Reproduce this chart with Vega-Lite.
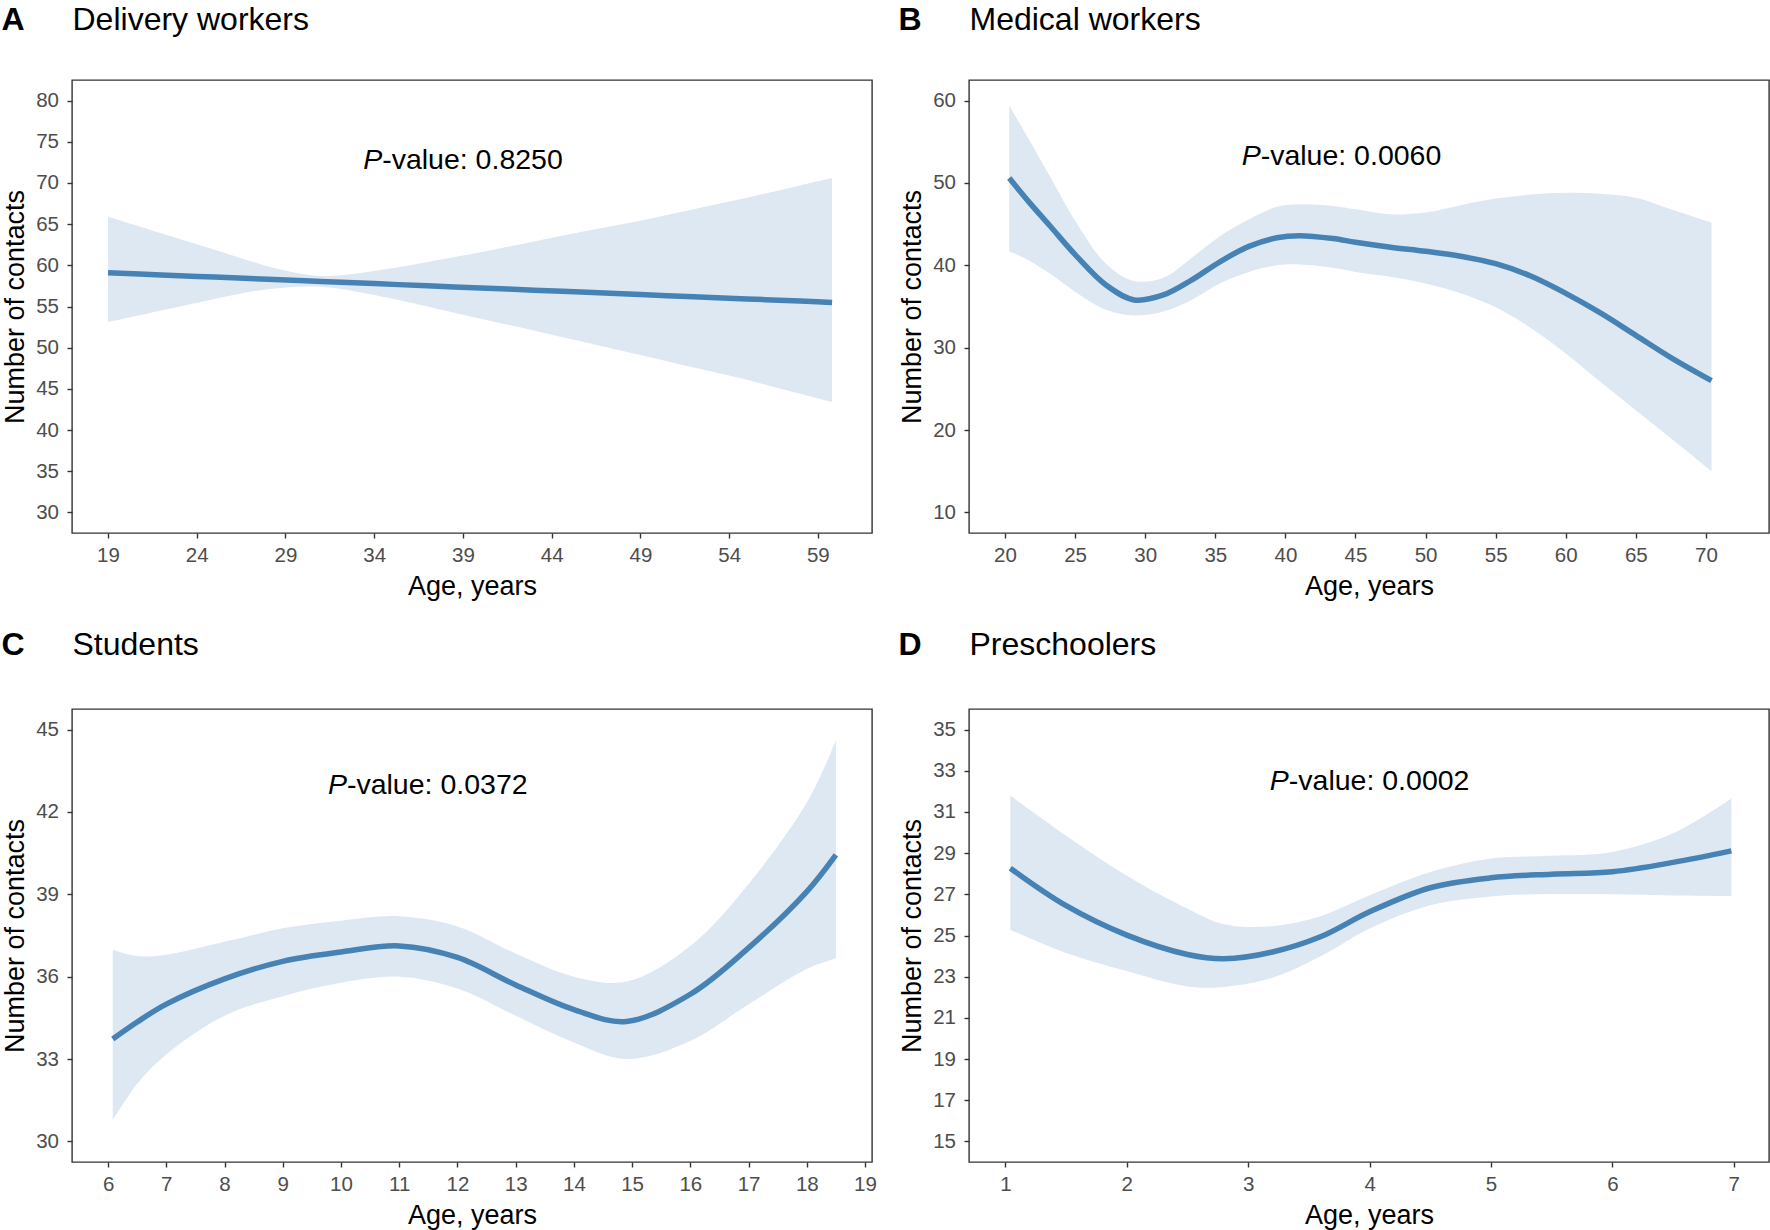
{
  "$schema": "https://vega.github.io/schema/vega-lite/v6.json",
  "autosize": "none",
  "padding": {"left": 72, "top": 80, "right": 1698, "bottom": 1150},
  "background": "white",
  "config": {
    "font": "Liberation Sans",
    "view": {"stroke": "#333333", "strokeWidth": 1.4},
    "axis": {"grid": false, "domain": false, "labelFont": "Liberation Sans", "titleFont": "Liberation Sans", "labelFontSize": 20.5, "labelColor": "#4D4D4D", "tickColor": "#333333", "tickWidth": 1.4, "tickSize": 5, "titleColor": "#000000", "titleFontWeight": "normal", "labelFlush": false, "labelOverlap": false}
  },
  "datasets": {
    "A": [
      {"x": 19.0, "m": 59.1, "lo": 53.1, "hi": 65.9},
      {"x": 22, "m": 58.83, "lo": 54.5, "hi": 63.9},
      {"x": 25, "m": 58.57, "lo": 55.9, "hi": 61.9},
      {"x": 28, "m": 58.31, "lo": 57.1, "hi": 59.9},
      {"x": 31, "m": 58.04, "lo": 57.4, "hi": 58.7},
      {"x": 34, "m": 57.78, "lo": 56.4, "hi": 59.3},
      {"x": 37, "m": 57.51, "lo": 55.0, "hi": 60.4},
      {"x": 40, "m": 57.25, "lo": 53.5, "hi": 61.6},
      {"x": 43, "m": 56.98, "lo": 52.1, "hi": 62.9},
      {"x": 46, "m": 56.72, "lo": 50.6, "hi": 64.2},
      {"x": 49, "m": 56.45, "lo": 49.1, "hi": 65.4},
      {"x": 52, "m": 56.19, "lo": 47.6, "hi": 66.8},
      {"x": 55, "m": 55.92, "lo": 46.1, "hi": 68.2},
      {"x": 58, "m": 55.66, "lo": 44.4, "hi": 69.7},
      {"x": 59.8, "m": 55.5, "lo": 43.4, "hi": 70.6}
    ],
    "B": [
      {"x": 20.3, "m": 50.6, "lo": 41.7, "hi": 59.4},
      {"x": 21.7, "m": 47.7, "lo": 40.6, "hi": 55.3},
      {"x": 23.2, "m": 44.8, "lo": 39.0, "hi": 50.8},
      {"x": 25.0, "m": 41.3, "lo": 36.8, "hi": 45.4},
      {"x": 27.2, "m": 37.6, "lo": 34.6, "hi": 40.2},
      {"x": 29.2, "m": 35.8, "lo": 33.9, "hi": 38.1},
      {"x": 31.3, "m": 36.4, "lo": 34.4, "hi": 38.5},
      {"x": 33.3, "m": 38.2, "lo": 35.8, "hi": 40.9},
      {"x": 35.3, "m": 40.4, "lo": 37.8, "hi": 43.5},
      {"x": 37.4, "m": 42.3, "lo": 39.2, "hi": 45.6},
      {"x": 39.4, "m": 43.35, "lo": 40.0, "hi": 47.1},
      {"x": 41.0, "m": 43.6, "lo": 40.1, "hi": 47.4},
      {"x": 43.4, "m": 43.25, "lo": 39.7, "hi": 47.2},
      {"x": 45.0, "m": 42.8, "lo": 39.2, "hi": 46.8},
      {"x": 47.5, "m": 42.2, "lo": 38.6, "hi": 46.2},
      {"x": 50.0, "m": 41.7, "lo": 37.8, "hi": 46.4},
      {"x": 52.5, "m": 41.1, "lo": 36.6, "hi": 47.3},
      {"x": 55.0, "m": 40.2, "lo": 34.9, "hi": 48.1},
      {"x": 57.5, "m": 38.7, "lo": 32.4, "hi": 48.6},
      {"x": 60.0, "m": 36.6, "lo": 29.3, "hi": 48.8},
      {"x": 62.5, "m": 34.2, "lo": 25.8, "hi": 48.7},
      {"x": 65.0, "m": 31.5, "lo": 22.4, "hi": 48.2},
      {"x": 67.5, "m": 28.8, "lo": 19.0, "hi": 46.8},
      {"x": 70.4, "m": 26.0, "lo": 15.0, "hi": 45.2}
    ],
    "C": [
      {"x": 6.08, "m": 33.73, "lo": 30.77, "hi": 36.98},
      {"x": 6.5, "m": 34.35, "lo": 32.1, "hi": 36.75},
      {"x": 7, "m": 35.0, "lo": 33.17, "hi": 36.8},
      {"x": 8, "m": 35.92, "lo": 34.58, "hi": 37.27},
      {"x": 9, "m": 36.56, "lo": 35.29, "hi": 37.76},
      {"x": 10, "m": 36.9, "lo": 35.78, "hi": 38.04},
      {"x": 11, "m": 37.12, "lo": 36.0, "hi": 38.2},
      {"x": 12, "m": 36.7, "lo": 35.57, "hi": 37.83},
      {"x": 13, "m": 35.7, "lo": 34.58, "hi": 36.84},
      {"x": 14, "m": 34.8, "lo": 33.6, "hi": 36.0},
      {"x": 14.9, "m": 34.37, "lo": 33.0, "hi": 35.82},
      {"x": 16, "m": 35.36, "lo": 33.66, "hi": 37.12},
      {"x": 17, "m": 37.05, "lo": 35.0, "hi": 39.38},
      {"x": 18, "m": 39.1, "lo": 36.28, "hi": 42.34},
      {"x": 18.5, "m": 40.44, "lo": 36.67, "hi": 44.6}
    ],
    "D": [
      {"x": 1.04, "m": 28.27, "lo": 25.28, "hi": 31.8},
      {"x": 1.5, "m": 26.45, "lo": 24.15, "hi": 29.85},
      {"x": 2, "m": 25.02, "lo": 23.27, "hi": 27.9},
      {"x": 2.5, "m": 24.08, "lo": 22.52, "hi": 26.3},
      {"x": 2.8, "m": 23.87, "lo": 22.5, "hi": 25.55},
      {"x": 3.2, "m": 24.2, "lo": 22.95, "hi": 25.45},
      {"x": 3.6, "m": 24.95, "lo": 24.0, "hi": 25.95},
      {"x": 4, "m": 26.15, "lo": 25.34, "hi": 26.95},
      {"x": 4.5, "m": 27.32, "lo": 26.47, "hi": 28.08},
      {"x": 5, "m": 27.8, "lo": 26.9, "hi": 28.74},
      {"x": 5.5, "m": 27.98, "lo": 27.01, "hi": 28.87},
      {"x": 6, "m": 28.1, "lo": 27.0, "hi": 29.06},
      {"x": 6.5, "m": 28.55, "lo": 26.94, "hi": 29.96},
      {"x": 6.98, "m": 29.11, "lo": 26.9, "hi": 31.65}
    ]
  },
  "columns": 2,
  "bounds": "flush",
  "spacing": {"row": 176, "column": 97},
  "concat": [
    {
      "width": 800, "height": 453,
      "resolve": {"axis": {"x": "independent", "y": "independent"}},
      "layer": [
        {"data": {"name": "A"}, "mark": {"type": "area", "color": "#DEE8F3", "interpolate": "catmull-rom"},
         "encoding": {
           "x": {"field": "x", "type": "quantitative", "scale": {"domain": [16.97, 62.05], "nice": false, "zero": false},
                 "axis": {"orient": "bottom", "values": [19, 24, 29, 34, 39, 44, 49, 54, 59], "labelPadding": 7, "title": "Age, years", "titleFontSize": 27, "titleX": 400, "titleY": 61, "titleAlign": "center", "titleBaseline": "alphabetic"}},
           "y": {"field": "lo", "type": "quantitative", "scale": {"domain": [27.5, 82.5], "nice": false, "zero": false},
                 "axis": {"orient": "left", "values": [30, 35, 40, 45, 50, 55, 60, 65, 70, 75, 80], "labelPadding": 8.5, "title": "Number of contacts", "titleFontSize": 27, "titleX": -48.5, "titleY": 226.5, "titleAngle": 270, "titleAlign": "center", "titleBaseline": "alphabetic"}},
           "y2": {"field": "hi"}}},
        {"data": {"name": "A"}, "mark": {"type": "line", "color": "#4682B4", "strokeWidth": 5.5, "interpolate": "catmull-rom", "strokeCap": "butt"},
         "encoding": {
           "x": {"field": "x", "type": "quantitative", "scale": {"domain": [16.97, 62.05], "nice": false, "zero": false},
                 "axis": {"orient": "top", "labels": false, "ticks": false, "title": "A", "titleFontSize": 32, "titleFontWeight": "bold", "titleX": -71, "titleY": -51, "titleAlign": "left", "titleBaseline": "alphabetic"}},
           "y": {"field": "m", "type": "quantitative", "scale": {"domain": [27.5, 82.5], "nice": false, "zero": false},
                 "axis": {"orient": "right", "labels": false, "ticks": false, "title": "Delivery workers", "titleFontSize": 32, "titleAngle": 0, "titleX": -800, "titleY": -51, "titleAlign": "left", "titleBaseline": "alphabetic"}}}},
        {"data": {"values": [{"t": "P"}]}, "mark": {"type": "text", "fontSize": 28.5, "fontStyle": "italic", "align": "left", "baseline": "alphabetic", "dx": -99.8, "color": "#000000"},
         "encoding": {"x": {"datum": 39, "type": "quantitative", "scale": {"domain": [16.97, 62.05], "nice": false, "zero": false}, "axis": null},
                      "y": {"datum": 71.7, "type": "quantitative", "scale": {"domain": [27.5, 82.5], "nice": false, "zero": false}, "axis": null},
                      "text": {"field": "t"}}},
        {"data": {"values": [{"t": "-value: 0.8250"}]}, "mark": {"type": "text", "fontSize": 28.5, "align": "left", "baseline": "alphabetic", "dx": -80.8, "color": "#000000"},
         "encoding": {"x": {"datum": 39, "type": "quantitative", "scale": {"domain": [16.97, 62.05], "nice": false, "zero": false}, "axis": null},
                      "y": {"datum": 71.7, "type": "quantitative", "scale": {"domain": [27.5, 82.5], "nice": false, "zero": false}, "axis": null},
                      "text": {"field": "t"}}}
      ]
    },
    {
      "width": 800, "height": 453,
      "resolve": {"axis": {"x": "independent", "y": "independent"}},
      "layer": [
        {"data": {"name": "B"}, "mark": {"type": "area", "color": "#DEE8F3", "interpolate": "catmull-rom"},
         "encoding": {
           "x": {"field": "x", "type": "quantitative", "scale": {"domain": [17.43, 74.5], "nice": false, "zero": false},
                 "axis": {"orient": "bottom", "values": [20, 25, 30, 35, 40, 45, 50, 55, 60, 65, 70], "labelPadding": 7, "title": "Age, years", "titleFontSize": 27, "titleX": 400, "titleY": 61, "titleAlign": "center", "titleBaseline": "alphabetic"}},
           "y": {"field": "lo", "type": "quantitative", "scale": {"domain": [7.5, 62.5], "nice": false, "zero": false},
                 "axis": {"orient": "left", "values": [10, 20, 30, 40, 50, 60], "labelPadding": 8.5, "title": "Number of contacts", "titleFontSize": 27, "titleX": -48.5, "titleY": 226.5, "titleAngle": 270, "titleAlign": "center", "titleBaseline": "alphabetic"}},
           "y2": {"field": "hi"}}},
        {"data": {"name": "B"}, "mark": {"type": "line", "color": "#4682B4", "strokeWidth": 5.5, "interpolate": "catmull-rom", "strokeCap": "butt"},
         "encoding": {
           "x": {"field": "x", "type": "quantitative", "scale": {"domain": [17.43, 74.5], "nice": false, "zero": false},
                 "axis": {"orient": "top", "labels": false, "ticks": false, "title": "B", "titleFontSize": 32, "titleFontWeight": "bold", "titleX": -71, "titleY": -51, "titleAlign": "left", "titleBaseline": "alphabetic"}},
           "y": {"field": "m", "type": "quantitative", "scale": {"domain": [7.5, 62.5], "nice": false, "zero": false},
                 "axis": {"orient": "right", "labels": false, "ticks": false, "title": "Medical workers", "titleFontSize": 32, "titleAngle": 0, "titleX": -800, "titleY": -51, "titleAlign": "left", "titleBaseline": "alphabetic"}}}},
        {"data": {"values": [{"t": "P"}]}, "mark": {"type": "text", "fontSize": 28.5, "fontStyle": "italic", "align": "left", "baseline": "alphabetic", "dx": -99.8, "color": "#000000"},
         "encoding": {"x": {"datum": 44.0, "type": "quantitative", "scale": {"domain": [17.43, 74.5], "nice": false, "zero": false}, "axis": null},
                      "y": {"datum": 52.2, "type": "quantitative", "scale": {"domain": [7.5, 62.5], "nice": false, "zero": false}, "axis": null},
                      "text": {"field": "t"}}},
        {"data": {"values": [{"t": "-value: 0.0060"}]}, "mark": {"type": "text", "fontSize": 28.5, "align": "left", "baseline": "alphabetic", "dx": -80.8, "color": "#000000"},
         "encoding": {"x": {"datum": 44.0, "type": "quantitative", "scale": {"domain": [17.43, 74.5], "nice": false, "zero": false}, "axis": null},
                      "y": {"datum": 52.2, "type": "quantitative", "scale": {"domain": [7.5, 62.5], "nice": false, "zero": false}, "axis": null},
                      "text": {"field": "t"}}}
      ]
    },
    {
      "width": 800, "height": 453,
      "resolve": {"axis": {"x": "independent", "y": "independent"}},
      "layer": [
        {"data": {"name": "C"}, "mark": {"type": "area", "color": "#DEE8F3", "interpolate": "catmull-rom"},
         "encoding": {
           "x": {"field": "x", "type": "quantitative", "scale": {"domain": [5.38, 19.12], "nice": false, "zero": false},
                 "axis": {"orient": "bottom", "values": [6, 7, 8, 9, 10, 11, 12, 13, 14, 15, 16, 17, 18, 19], "labelPadding": 7, "title": "Age, years", "titleFontSize": 27, "titleX": 400, "titleY": 61, "titleAlign": "center", "titleBaseline": "alphabetic"}},
           "y": {"field": "lo", "type": "quantitative", "scale": {"domain": [29.25, 45.75], "nice": false, "zero": false},
                 "axis": {"orient": "left", "values": [30, 33, 36, 39, 42, 45], "labelPadding": 8.5, "title": "Number of contacts", "titleFontSize": 27, "titleX": -48.5, "titleY": 226.5, "titleAngle": 270, "titleAlign": "center", "titleBaseline": "alphabetic"}},
           "y2": {"field": "hi"}}},
        {"data": {"name": "C"}, "mark": {"type": "line", "color": "#4682B4", "strokeWidth": 5.5, "interpolate": "catmull-rom", "strokeCap": "butt"},
         "encoding": {
           "x": {"field": "x", "type": "quantitative", "scale": {"domain": [5.38, 19.12], "nice": false, "zero": false},
                 "axis": {"orient": "top", "labels": false, "ticks": false, "title": "C", "titleFontSize": 32, "titleFontWeight": "bold", "titleX": -71, "titleY": -55, "titleAlign": "left", "titleBaseline": "alphabetic"}},
           "y": {"field": "m", "type": "quantitative", "scale": {"domain": [29.25, 45.75], "nice": false, "zero": false},
                 "axis": {"orient": "right", "labels": false, "ticks": false, "title": "Students", "titleFontSize": 32, "titleAngle": 0, "titleX": -800, "titleY": -55, "titleAlign": "left", "titleBaseline": "alphabetic"}}}},
        {"data": {"values": [{"t": "P"}]}, "mark": {"type": "text", "fontSize": 28.5, "fontStyle": "italic", "align": "left", "baseline": "alphabetic", "dx": -99.8, "color": "#000000"},
         "encoding": {"x": {"datum": 11.49, "type": "quantitative", "scale": {"domain": [5.38, 19.12], "nice": false, "zero": false}, "axis": null},
                      "y": {"datum": 42.67, "type": "quantitative", "scale": {"domain": [29.25, 45.75], "nice": false, "zero": false}, "axis": null},
                      "text": {"field": "t"}}},
        {"data": {"values": [{"t": "-value: 0.0372"}]}, "mark": {"type": "text", "fontSize": 28.5, "align": "left", "baseline": "alphabetic", "dx": -80.8, "color": "#000000"},
         "encoding": {"x": {"datum": 11.49, "type": "quantitative", "scale": {"domain": [5.38, 19.12], "nice": false, "zero": false}, "axis": null},
                      "y": {"datum": 42.67, "type": "quantitative", "scale": {"domain": [29.25, 45.75], "nice": false, "zero": false}, "axis": null},
                      "text": {"field": "t"}}}
      ]
    },
    {
      "width": 800, "height": 453,
      "resolve": {"axis": {"x": "independent", "y": "independent"}},
      "layer": [
        {"data": {"name": "D"}, "mark": {"type": "area", "color": "#DEE8F3", "interpolate": "catmull-rom"},
         "encoding": {
           "x": {"field": "x", "type": "quantitative", "scale": {"domain": [0.7, 7.29], "nice": false, "zero": false},
                 "axis": {"orient": "bottom", "values": [1, 2, 3, 4, 5, 6, 7], "labelPadding": 7, "title": "Age, years", "titleFontSize": 27, "titleX": 400, "titleY": 61, "titleAlign": "center", "titleBaseline": "alphabetic"}},
           "y": {"field": "lo", "type": "quantitative", "scale": {"domain": [14, 36], "nice": false, "zero": false},
                 "axis": {"orient": "left", "values": [15, 17, 19, 21, 23, 25, 27, 29, 31, 33, 35], "labelPadding": 8.5, "title": "Number of contacts", "titleFontSize": 27, "titleX": -48.5, "titleY": 226.5, "titleAngle": 270, "titleAlign": "center", "titleBaseline": "alphabetic"}},
           "y2": {"field": "hi"}}},
        {"data": {"name": "D"}, "mark": {"type": "line", "color": "#4682B4", "strokeWidth": 5.5, "interpolate": "catmull-rom", "strokeCap": "butt"},
         "encoding": {
           "x": {"field": "x", "type": "quantitative", "scale": {"domain": [0.7, 7.29], "nice": false, "zero": false},
                 "axis": {"orient": "top", "labels": false, "ticks": false, "title": "D", "titleFontSize": 32, "titleFontWeight": "bold", "titleX": -71, "titleY": -55, "titleAlign": "left", "titleBaseline": "alphabetic"}},
           "y": {"field": "m", "type": "quantitative", "scale": {"domain": [14, 36], "nice": false, "zero": false},
                 "axis": {"orient": "right", "labels": false, "ticks": false, "title": "Preschoolers", "titleFontSize": 32, "titleAngle": 0, "titleX": -800, "titleY": -55, "titleAlign": "left", "titleBaseline": "alphabetic"}}}},
        {"data": {"values": [{"t": "P"}]}, "mark": {"type": "text", "fontSize": 28.5, "fontStyle": "italic", "align": "left", "baseline": "alphabetic", "dx": -99.8, "color": "#000000"},
         "encoding": {"x": {"datum": 4.0, "type": "quantitative", "scale": {"domain": [0.7, 7.29], "nice": false, "zero": false}, "axis": null},
                      "y": {"datum": 32.06, "type": "quantitative", "scale": {"domain": [14, 36], "nice": false, "zero": false}, "axis": null},
                      "text": {"field": "t"}}},
        {"data": {"values": [{"t": "-value: 0.0002"}]}, "mark": {"type": "text", "fontSize": 28.5, "align": "left", "baseline": "alphabetic", "dx": -80.8, "color": "#000000"},
         "encoding": {"x": {"datum": 4.0, "type": "quantitative", "scale": {"domain": [0.7, 7.29], "nice": false, "zero": false}, "axis": null},
                      "y": {"datum": 32.06, "type": "quantitative", "scale": {"domain": [14, 36], "nice": false, "zero": false}, "axis": null},
                      "text": {"field": "t"}}}
      ]
    }
  ]
}
